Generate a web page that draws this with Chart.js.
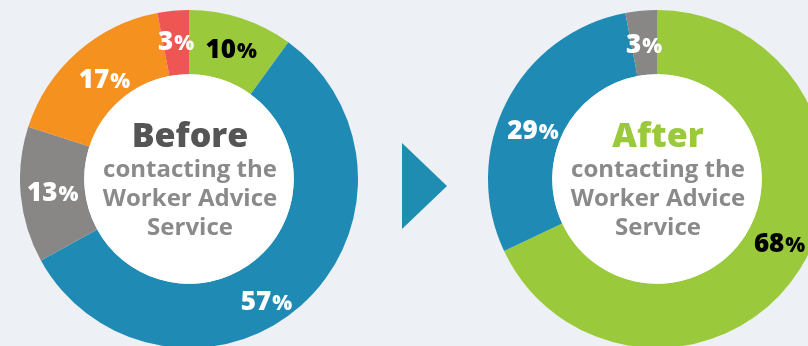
<!DOCTYPE html>
<html>
<head>
<meta charset="utf-8">
<script src="https://cdn.jsdelivr.net/npm/chart.js@4/dist/chart.umd.min.js"></script>
<style>
  html, body { margin:0; padding:0; }
  body { width:808px; height:346px; overflow:hidden; background:#edf0f5; position:relative; font-family:"Open Sans", sans-serif; }
  .donut { position:absolute; top:10px; width:338px; height:338px; }
  #beforeWrap { left:20px; }
  #afterWrap { left:488px; }
  #arrow { position:absolute; left:402px; top:143px; width:0; height:0;
    border-top:43px solid transparent; border-bottom:43px solid transparent; border-left:45px solid #1f8db2; }
</style>
</head>
<body>
<div id="arrow"></div>
<div class="donut" id="beforeWrap"><canvas id="beforeChart" width="338" height="338"></canvas></div>
<div class="donut" id="afterWrap"><canvas id="afterChart" width="338" height="338"></canvas></div>
<script>
// slices go clockwise from 12 o'clock
const beforeCategories = ['Green', 'Blue', 'Grey', 'Orange', 'Red'];
const beforeValues = [10, 57, 13, 17, 3];
const beforeColors = ['#9bc93c', '#1f8bb4', '#888786', '#f5911f', '#ef5552'];
const beforeTextColors = ['#000', '#fff', '#fff', '#fff', '#fff'];
const beforeNudges = [[0,0], [-13,19], [0,0], [6,2], [0,-2]];

const afterCategories = ['Green', 'Blue', 'Grey'];
const afterValues = [68, 29, 3];
const afterColors = ['#9bc93c', '#1f8bb4', '#888786'];
const afterTextColors = ['#000', '#fff', '#fff'];
const afterNudges = [[7,-10], [-2,13], [0,1]];

const titleFont = '"Open Sans", sans-serif';

const pctLabels = {
    id:'pctLabels',
    afterDatasetsDraw(chart, args, opts){
        const ctx = chart.ctx;
        const meta = chart.getDatasetMeta(0);
        meta.data.forEach((arc,i)=>{
            const p = arc.tooltipPosition(true);
            const n = opts.nudges[i] || [0,0];
            const num = String(chart.data.datasets[0].data[i]);
            const small = Math.round(opts.size*0.8);
            ctx.save();
            ctx.font = `800 ${opts.size}px ${titleFont}`;
            const w1 = ctx.measureText(num).width;
            ctx.font = `800 ${small}px ${titleFont}`;
            const w2 = ctx.measureText('%').width;
            const x = p.x + n[0] - (w1+w2+1)/2;
            const y = p.y + n[1] + opts.size*0.36;
            ctx.fillStyle = opts.colors[i];
            ctx.textBaseline = 'alphabetic';
            ctx.textAlign = 'left';
            ctx.font = `800 ${opts.size}px ${titleFont}`;
            ctx.fillText(num, x, y);
            ctx.font = `800 ${small}px ${titleFont}`;
            ctx.fillText('%', x + w1 + 1, y);
            ctx.restore();
        });
    }
};

const centerText = {
    id:'centerText',
    afterDraw(chart, args, opts){
        const ctx = chart.ctx;
        const arc = chart.getDatasetMeta(0).data[0];
        const cx = arc.x, cy = arc.y;
        ctx.save();
        ctx.fillStyle = '#ffffff';
        ctx.beginPath();
        ctx.arc(cx, cy, arc.innerRadius, 0, Math.PI*2);
        ctx.fill();
        ctx.textAlign = 'center';
        ctx.textBaseline = 'middle';
        ctx.fillStyle = opts.titleColor;
        ctx.font = `800 34px ${titleFont}`;
        ctx.fillText(opts.title, cx + 1, cy - 42);
        ctx.fillStyle = '#8a8a8a';
        ctx.font = `bold 24px ${titleFont}`;
        opts.lines.forEach((l,i)=> ctx.fillText(l, cx + 1, cy - 9 + i*29));
        ctx.restore();
    }
};

function makeDonut(id, labels, values, colors, textColors, nudges, title, titleColor){
    return new Chart(document.getElementById(id), {
        type:'doughnut',
        data:{
            labels:labels,
            datasets:[{ data:values, backgroundColor:colors, borderWidth:0 }]
        },
        options:{
            responsive:false,
            animation:false,
            cutout:'62%',
            layout:{ padding:0 },
            plugins:{
                legend:{ display:false },
                tooltip:{ enabled:false },
                pctLabels:{ colors:textColors, nudges:nudges, size:26 },
                centerText:{ title:title, titleColor:titleColor, lines:['contacting the','Worker Advice','Service'] }
            }
        },
        plugins:[pctLabels, centerText]
    });
}

makeDonut('beforeChart', beforeCategories, beforeValues, beforeColors, beforeTextColors, beforeNudges, 'Before', '#555555');
makeDonut('afterChart', afterCategories, afterValues, afterColors, afterTextColors, afterNudges, 'After', '#9bc93c');
</script>
</body>
</html>
